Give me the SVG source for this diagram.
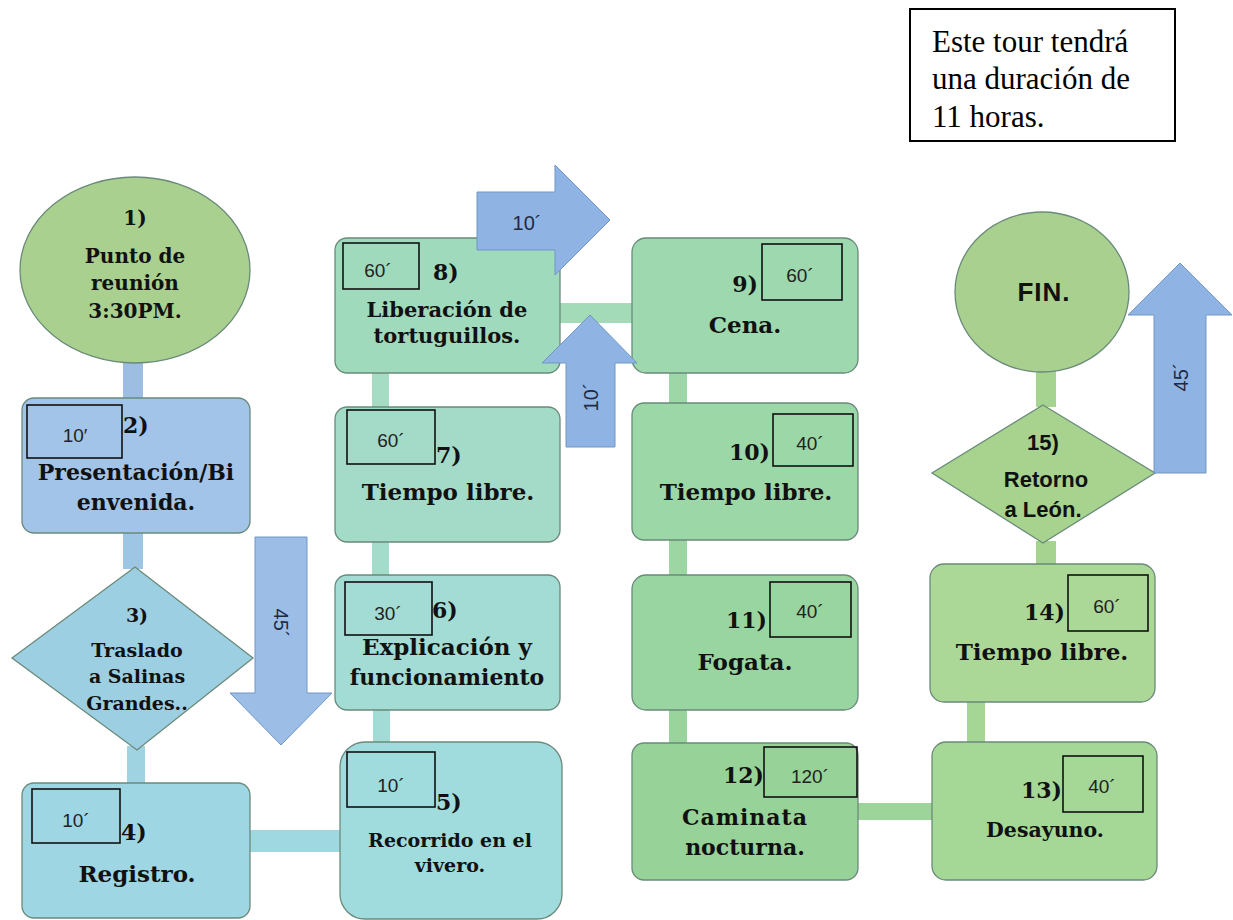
<svg xmlns="http://www.w3.org/2000/svg" width="1233" height="920" viewBox="0 0 1233 920">
<style>
.lbl{font-family:"DejaVu Serif","Liberation Serif",serif;font-weight:bold;fill:#111;text-anchor:middle}
.num{font-family:"DejaVu Serif","Liberation Serif",serif;font-weight:bold;font-size:22px;fill:#111}
.sans{font-family:"Liberation Sans","Open Sans",sans-serif;font-weight:bold;fill:#111;text-anchor:middle}
.dur{font-family:"Liberation Sans","Open Sans",sans-serif;font-size:19px;fill:#222;text-anchor:middle}
.durbox{fill:none;stroke:#111;stroke-width:1.6}
.node{stroke:#6a8a7a;stroke-width:1.3}
.arrow{fill:#8fb4e3;stroke:#7196c6;stroke-width:1}
.atext{font-family:"Liberation Sans","Open Sans",sans-serif;font-size:20px;fill:#1f2a44;text-anchor:middle}
.note{font-family:"Liberation Serif","Times New Roman",serif;font-size:31px;fill:#000}
</style>
<rect width="1233" height="920" fill="#ffffff"/>

<g id="connectors">
  <rect x="123" y="358" width="20" height="42" fill="#9dbde3"/>
  <rect x="123" y="531" width="20" height="38" fill="#9cc6e3"/>
  <rect x="127" y="746" width="18" height="39" fill="#9fd3e2"/>
  <rect x="248" y="830" width="94" height="22" fill="#9fd8e0"/>
  <rect x="373" y="708" width="17" height="37" fill="#a3dcd6"/>
  <rect x="372" y="540" width="17" height="37" fill="#a4dccb"/>
  <rect x="372" y="371" width="17" height="38" fill="#a5dcc3"/>
  <rect x="558" y="303" width="76" height="20" fill="#a3dbb8"/>
  <rect x="669" y="371" width="18" height="34" fill="#9dd7a8"/>
  <rect x="669" y="538" width="18" height="39" fill="#9bd6a3"/>
  <rect x="669" y="708" width="18" height="37" fill="#98d49c"/>
  <rect x="856" y="803" width="78" height="17" fill="#9dd49a"/>
  <rect x="967" y="700" width="18" height="44" fill="#a6d696"/>
  <rect x="1036" y="541" width="20" height="25" fill="#a6d38f"/>
  <rect x="1036" y="368" width="20" height="39" fill="#a6d38f"/>
</g>

<g id="node-1">
  <ellipse class="node" cx="135" cy="270" rx="115" ry="93" fill="#a9d08e"/>
  <text class="lbl" x="135" y="225" font-size="20">1)</text>
  <text class="lbl" x="135" y="263" font-size="20">Punto de</text>
  <text class="lbl" x="135" y="290" font-size="20">reunión</text>
  <text class="lbl" x="135" y="318" font-size="20">3:30PM.</text>
</g>

<g id="node-2">
  <rect class="node" x="22" y="398" width="228" height="135" rx="12" fill="#a2c4e8"/>
  <rect class="durbox" x="27" y="405" width="95" height="53"/>
  <text class="dur" x="75" y="442">10′</text>
  <text class="num" x="123" y="433">2)</text>
  <text class="lbl" x="136" y="480" font-size="22">Presentación/Bi</text>
  <text class="lbl" x="136" y="510" font-size="22">envenida.</text>
</g>

<g id="node-3">
  <polygon class="node" points="135,567 253,658 137,750 12,658" fill="#9ccfe2"/>
  <text class="lbl" x="137" y="622" font-size="19">3)</text>
  <text class="lbl" x="137" y="657" font-size="19">Traslado</text>
  <text class="lbl" x="137" y="683" font-size="19">a Salinas</text>
  <text class="lbl" x="137" y="710" font-size="19">Grandes..</text>
</g>

<g id="node-4">
  <rect class="node" x="22" y="783" width="228" height="135" rx="12" fill="#9fd6e3"/>
  <rect class="durbox" x="32" y="789" width="88" height="54"/>
  <text class="dur" x="76" y="827">10´</text>
  <text class="num" x="121" y="840">4)</text>
  <text class="lbl" x="137" y="882" font-size="23">Registro.</text>
</g>

<g id="node-5">
  <rect class="node" x="340" y="742" width="222" height="177" rx="25" fill="#a0dcdd"/>
  <rect class="durbox" x="347" y="752" width="88" height="55"/>
  <text class="dur" x="391" y="792">10´</text>
  <text class="num" x="436" y="810">5)</text>
  <text class="lbl" x="450" y="847" font-size="19">Recorrido en el</text>
  <text class="lbl" x="450" y="872" font-size="19">vivero.</text>
</g>

<g id="node-6">
  <rect class="node" x="335" y="575" width="225" height="135" rx="12" fill="#a2dcd5"/>
  <rect class="durbox" x="345" y="582" width="87" height="53"/>
  <text class="dur" x="388" y="620">30´</text>
  <text class="num" x="432" y="618">6)</text>
  <text class="lbl" x="447" y="655" font-size="23">Explicación y</text>
  <text class="lbl" x="447" y="685" font-size="22">funcionamiento</text>
</g>

<g id="node-7">
  <rect class="node" x="335" y="407" width="225" height="135" rx="12" fill="#a3dbc8"/>
  <rect class="durbox" x="347" y="410" width="88" height="54"/>
  <text class="dur" x="391" y="447">60´</text>
  <text class="num" x="436" y="463">7)</text>
  <text class="lbl" x="448" y="500" font-size="23">Tiempo libre.</text>
</g>

<g id="node-8">
  <rect class="node" x="335" y="238" width="225" height="135" rx="12" fill="#a0dabd"/>
  <rect class="durbox" x="343" y="243" width="76" height="46"/>
  <text class="dur" x="378" y="277">60´</text>
  <text class="num" x="433" y="280">8)</text>
  <text class="lbl" x="447" y="317" font-size="21">Liberación de</text>
  <text class="lbl" x="447" y="343" font-size="21">tortuguillos.</text>
</g>

<g id="node-9">
  <rect class="node" x="632" y="238" width="226" height="135" rx="14" fill="#9dd8ae"/>
  <rect class="durbox" x="762" y="244" width="80" height="56"/>
  <text class="dur" x="800" y="282">60´</text>
  <text class="num" x="758" y="292" text-anchor="end">9)</text>
  <text class="lbl" x="745" y="333" font-size="23">Cena.</text>
</g>

<g id="node-10">
  <rect class="node" x="632" y="403" width="226" height="137" rx="12" fill="#9bd7a7"/>
  <rect class="durbox" x="773" y="414" width="80" height="52"/>
  <text class="dur" x="810" y="450">40´</text>
  <text class="num" x="770" y="460" text-anchor="end">10)</text>
  <text class="lbl" x="746" y="500" font-size="23">Tiempo libre.</text>
</g>

<g id="node-11">
  <rect class="node" x="632" y="575" width="226" height="135" rx="14" fill="#99d5a0"/>
  <rect class="durbox" x="770" y="582" width="81" height="55"/>
  <text class="dur" x="810" y="618">40´</text>
  <text class="num" x="767" y="628" text-anchor="end">11)</text>
  <text class="lbl" x="745" y="670" font-size="23">Fogata.</text>
</g>

<g id="node-12">
  <rect class="node" x="632" y="743" width="226" height="137" rx="12" fill="#97d398"/>
  <rect class="durbox" x="764" y="747" width="93" height="50"/>
  <text class="dur" x="810" y="783">120´</text>
  <text class="num" x="764" y="783" text-anchor="end">12)</text>
  <text class="lbl" x="745" y="825" font-size="22" letter-spacing="1">Caminata</text>
  <text class="lbl" x="745" y="855" font-size="22">nocturna.</text>
</g>

<g id="node-13">
  <rect class="node" x="932" y="742" width="225" height="138" rx="14" fill="#a5d796"/>
  <rect class="durbox" x="1063" y="756" width="80" height="56"/>
  <text class="dur" x="1102" y="793">40´</text>
  <text class="num" x="1062" y="798" text-anchor="end">13)</text>
  <text class="lbl" x="1045" y="837" font-size="20.5">Desayuno.</text>
</g>

<g id="node-14">
  <rect class="node" x="930" y="564" width="225" height="138" rx="14" fill="#abd797"/>
  <rect class="durbox" x="1068" y="575" width="80" height="56"/>
  <text class="dur" x="1107" y="613">60´</text>
  <text class="num" x="1065" y="620" text-anchor="end">14)</text>
  <text class="lbl" x="1042" y="660" font-size="23">Tiempo libre.</text>
</g>

<g id="node-15">
  <polygon class="node" points="1043,405 1155,473 1043,543 932,473" fill="#a7d38f"/>
  <text class="sans" x="1043" y="450" font-size="22">15)</text>
  <text class="sans" x="1046" y="487" font-size="22">Retorno</text>
  <text class="sans" x="1043" y="517" font-size="22">a León.</text>
</g>

<g id="node-fin">
  <ellipse class="node" cx="1042" cy="292" rx="87" ry="80" fill="#a9d08e"/>
  <text class="sans" x="1044" y="301" font-size="26" letter-spacing="1">FIN.</text>
</g>

<g id="note">
  <rect x="910" y="9" width="265" height="132" fill="#fff" stroke="#000" stroke-width="2"/>
  <text class="note" x="932" y="52">Este tour tendrá</text>
  <text class="note" x="932" y="89">una duración de</text>
  <text class="note" x="932" y="127">11 horas.</text>
</g>

<g id="transfer-arrows">
  <polygon class="arrow" points="255,537 307,537 307,693 332,693 281,745 230,693 255,693" style="fill:#9cbde6"/>
  <text class="atext" transform="translate(281,623) rotate(90)" y="7">45´</text>
  <polygon class="arrow" points="477,192 555,192 555,165 610,220 555,275 555,250 477,250"/>
  <text class="atext" x="527" y="230">10´</text>
  <polygon class="arrow" points="566,447 615,447 615,363 637,363 590,315 542,363 566,363"/>
  <text class="atext" transform="translate(591,397) rotate(-90)" y="7">10´</text>
  <polygon class="arrow" points="1154,473 1206,473 1206,315 1232,315 1180,263 1128,315 1154,315"/>
  <text class="atext" transform="translate(1181,377) rotate(-90)" y="7">45´</text>
</g>
</svg>
